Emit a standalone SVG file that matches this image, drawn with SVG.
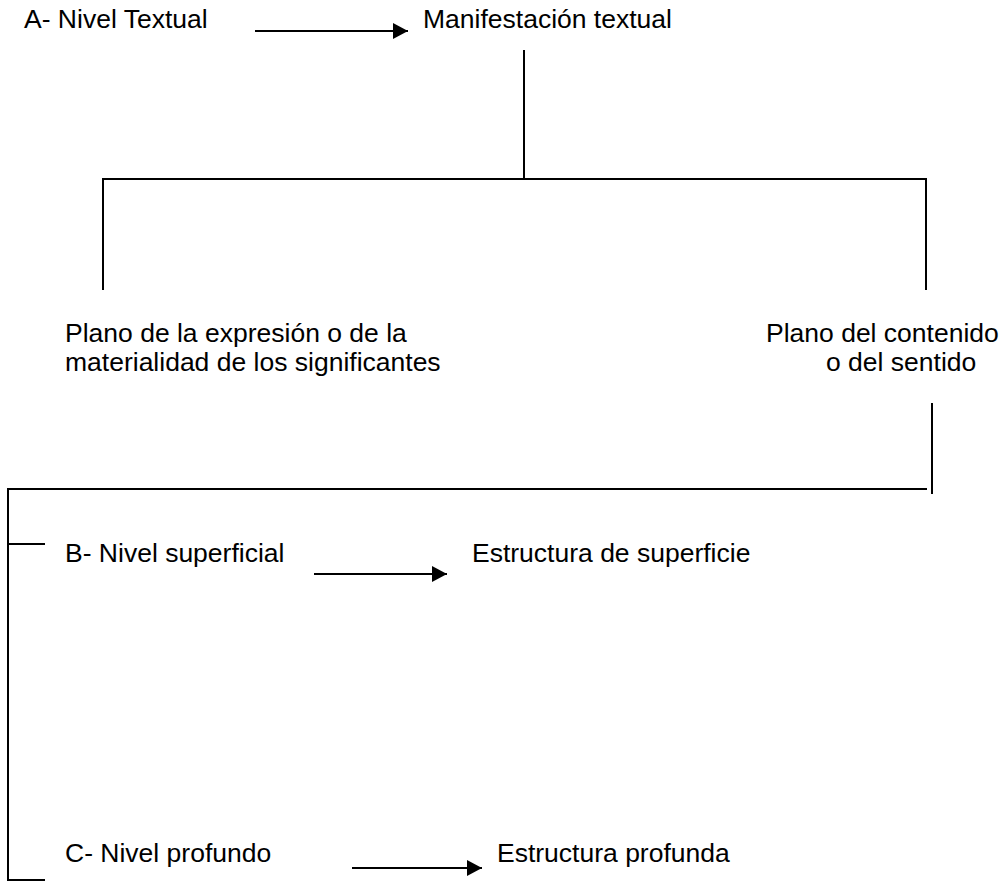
<svg xmlns="http://www.w3.org/2000/svg" width="1003" height="888" viewBox="0 0 1003 888">
<style>
text{font-family:"Liberation Sans",Arial,sans-serif;font-size:26.5px;fill:#000}
.ln{stroke:#000;stroke-width:2;fill:none}
</style>
<defs>
<marker id="ah" markerWidth="15" markerHeight="16" refX="15" refY="8" orient="auto" markerUnits="userSpaceOnUse">
<path d="M0,0 L15,8 L0,16 Z" fill="#000"/>
</marker>
</defs>
<rect width="1003" height="888" fill="#fff"/>
<g id="connectors">
<line class="ln" x1="255" y1="31" x2="408" y2="31" marker-end="url(#ah)"/>
<polyline class="ln" points="524,50 524,179"/>
<polyline class="ln" points="103,290 103,179 926,179 926,290"/>
<polyline class="ln" points="932,403 932,494"/>
<polyline class="ln" points="927,489 8,489 8,880 45,880"/>
<line class="ln" x1="8" y1="544" x2="45" y2="544"/>
<line class="ln" x1="314" y1="574" x2="447" y2="574" marker-end="url(#ah)"/>
<line class="ln" x1="352" y1="868" x2="482" y2="868" marker-end="url(#ah)"/>
</g>
<g id="nivel-textual"><text x="24" y="28">A- Nivel Textual</text></g>
<g id="manifestacion"><text x="423" y="28">Manifestación textual</text></g>
<g id="plano-expresion"><text x="65" y="342">Plano de la expresión o de la</text><text x="65" y="371">materialidad de los significantes</text></g>
<g id="plano-contenido"><text x="766" y="342">Plano del contenido</text><text x="826" y="371">o del sentido</text></g>
<g id="nivel-superficial"><text x="65" y="562">B- Nivel superficial</text></g>
<g id="estructura-superficie"><text x="472" y="562">Estructura de superficie</text></g>
<g id="nivel-profundo"><text x="65" y="862">C- Nivel profundo</text></g>
<g id="estructura-profunda"><text x="497" y="862">Estructura profunda</text></g>
</svg>
